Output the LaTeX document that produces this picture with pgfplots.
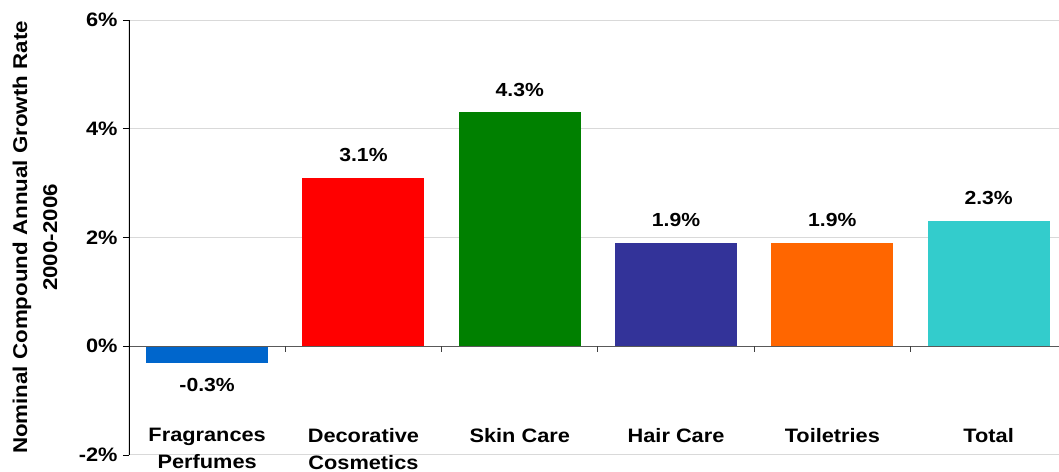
\documentclass[border=0pt]{standalone}
\usepackage{fontspec}
\setmainfont{Liberation Sans}[FakeStretch=1.12]
\usepackage{pgfplots}
\pgfplotsset{compat=1.18}
\usetikzlibrary{calc}

\definecolor{cFrag}{HTML}{0066CC}
\definecolor{cDeco}{HTML}{FF0000}
\definecolor{cSkin}{HTML}{008000}
\definecolor{cHair}{HTML}{333399}
\definecolor{cToil}{HTML}{FF6600}
\definecolor{cTotal}{HTML}{33CCCC}

\begin{document}
\begin{tikzpicture}
\begin{axis}[
  scale only axis,
  width=930bp, height=435bp,
  at={(0,0)}, anchor=south west,
  ybar, bar width=122bp, bar shift=0pt,
  xmin=-0.5, xmax=5.45, ymin=-2, ymax=6,
  xtick={0,1,2,3,4,5},
  xticklabels={{Fragrances\\Perfumes},{Decorative\\Cosmetics},{Skin Care},{Hair Care},{Toiletries},{Total}},
  ytick={-2,0,2,4,6},
  yticklabels={-2\%,0\%,2\%,4\%,6\%},
  axis line style={draw=none},
  ymajorgrids,
  grid style={color=black!15, line width=1bp},
  xtick style={draw=none},
  ytick style={black, line width=0.9bp},
  tick align=outside, major tick length=6bp, tick pos=left,
  /pgf/number format/assume math mode=true,
  yticklabel style={font=\bfseries\fontsize{19.5}{24}\selectfont, xshift=-2bp},
  xticklabel style={font=\bfseries\fontsize{19.5}{27}\selectfont, align=center, anchor=north, yshift=36bp},
  ylabel={Nominal Compound Annual Growth Rate\\2000-2006},
  ylabel style={font=\bfseries\fontsize{20}{30}\selectfont, align=center, at={(rel axis cs:-0.101,0.5)}, anchor=center},
  nodes near coords={\pgfmathprintnumber[fixed,fixed zerofill,precision=1]{\pgfplotspointmeta}\%},
  nodes near coords style={font=\bfseries\fontsize{19}{24}\selectfont, black, inner ysep=16bp},
  every axis plot/.append style={draw=none},
]
\addplot[fill=cFrag]  coordinates {(0,-0.3)};
\addplot[fill=cDeco]  coordinates {(1,3.1)};
\addplot[fill=cSkin]  coordinates {(2,4.3)};
\addplot[fill=cHair]  coordinates {(3,1.9)};
\addplot[fill=cToil]  coordinates {(4,1.9)};
\addplot[fill=cTotal] coordinates {(5,2.3)};

% zero line, left axis and category separators
\draw[black!65, line width=1.2bp] (rel axis cs:0,0.25) -- (rel axis cs:1,0.25);
\pgfplotsinvokeforeach{0.5,1.5,2.5,3.5,4.5}{
  \draw[black!75, line width=1bp] (axis cs:#1,0) -- ++(0pt,-6bp);
}
\draw[black, line width=1.2bp] (rel axis cs:0,0) -- (rel axis cs:0,1);
\coordinate (sw) at (rel axis cs:0,0);
\end{axis}
\pgfresetboundingbox
\path[use as bounding box] ($(sw)+(-129bp,-17bp)$) rectangle ($(sw)+(930bp,455bp)$);
\end{tikzpicture}
\end{document}
